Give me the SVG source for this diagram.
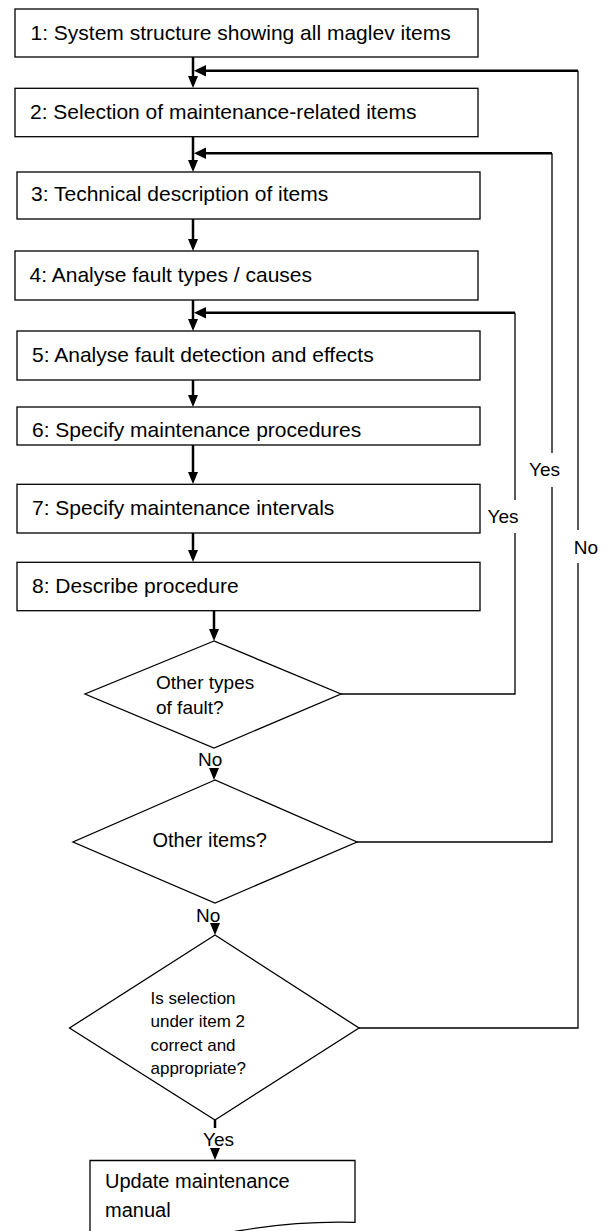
<svg xmlns="http://www.w3.org/2000/svg" width="607" height="1231" viewBox="0 0 607 1231">
<style>
text{font-family:"Liberation Sans",Arial,sans-serif;fill:#000}
.bt{font-size:21px}
.lb{font-size:19px}
.box{fill:#fff;stroke:#000;stroke-width:1.3}
.thick{stroke:#000;stroke-width:2.5;fill:none}
.thin{stroke:#000;stroke-width:1.3;fill:none}
.ah{fill:#000;stroke:none}
</style>
<rect width="607" height="1231" fill="#fff"/>
<g id="connectors">
<line class="thick" x1="193" y1="57" x2="193" y2="77"/>
<polygon class="ah" points="188,76 198,76 193,88"/>
<line class="thick" x1="193" y1="137" x2="193" y2="161"/>
<polygon class="ah" points="188,160 198,160 193,172"/>
<line class="thick" x1="193" y1="219" x2="193" y2="240"/>
<polygon class="ah" points="188,239 198,239 193,251"/>
<line class="thick" x1="193" y1="300" x2="193" y2="320"/>
<polygon class="ah" points="188,319 198,319 193,331"/>
<line class="thick" x1="193" y1="380" x2="193" y2="396"/>
<polygon class="ah" points="188,395 198,395 193,407"/>
<line class="thick" x1="193" y1="445" x2="193" y2="473"/>
<polygon class="ah" points="188,472 198,472 193,484"/>
<line class="thick" x1="193" y1="533" x2="193" y2="551"/>
<polygon class="ah" points="188,550 198,550 193,562"/>
<line class="thick" x1="214" y1="611" x2="214" y2="630"/>
<polygon class="ah" points="209,629 219,629 214,641"/>
<polygon class="ah" points="209,768 219,768 214,780"/>
<polygon class="ah" points="210,923 220,923 215,935"/>
<line class="thick" x1="215" y1="1120" x2="215" y2="1128"/>
<polygon class="ah" points="210,1148 220,1148 215,1160"/>
<polyline class="thin" points="341,694 515,694 515,533"/>
<polyline class="thin" points="515,500 515,312.7"/>
<line class="thick" x1="515" y1="312.7" x2="200" y2="312.7"/>
<polygon class="ah" points="194,312.7 206,307 206,318.4"/>
<polyline class="thin" points="357,842 552,842 552,487"/>
<polyline class="thin" points="552,453 552,153.3"/>
<line class="thick" x1="552" y1="153.3" x2="200" y2="153.3"/>
<polygon class="ah" points="194,153.3 206,147.6 206,159"/>
<polyline class="thin" points="359,1028 578,1028 578,563"/>
<polyline class="thin" points="578,530 578,70.7"/>
<line class="thick" x1="578" y1="70.7" x2="200" y2="70.7"/>
<polygon class="ah" points="194,70.7 206,65 206,76.4"/>
<text class="lb" x="503" y="523" text-anchor="middle">Yes</text>
<text class="lb" x="544.5" y="476" text-anchor="middle">Yes</text>
<text class="lb" x="586" y="554" text-anchor="middle">No</text>
<text class="lb" x="198" y="766">No</text>
<text class="lb" x="196" y="922">No</text>
<text class="lb" x="203" y="1146">Yes</text>
</g>
<g id="n1"><rect class="box" x="15" y="9" width="463" height="48"/><text class="bt" x="30.5" y="40">1: System structure showing all maglev items</text></g>
<g id="n2"><rect class="box" x="15" y="88.3" width="463" height="48.4"/><text class="bt" x="30" y="118.5">2: Selection of maintenance-related items</text></g>
<g id="n3"><rect class="box" x="17" y="172" width="463" height="47"/><text class="bt" x="31" y="201">3: Technical description of items</text></g>
<g id="n4"><rect class="box" x="15" y="251" width="463" height="49"/><text class="bt" x="29.5" y="281.5">4: Analyse fault types / causes</text></g>
<g id="n5"><rect class="box" x="17" y="331" width="463" height="49"/><text class="bt" x="32" y="361.5">5: Analyse fault detection and effects</text></g>
<g id="n6"><rect class="box" x="17" y="407" width="463" height="38"/><text class="bt" x="32" y="436.5">6: Specify maintenance procedures</text></g>
<g id="n7"><rect class="box" x="17" y="484.3" width="463" height="48.7"/><text class="bt" x="32" y="515">7: Specify maintenance intervals</text></g>
<g id="n8"><rect class="box" x="17" y="562.3" width="463" height="48.4"/><text class="bt" x="32" y="593.3">8: Describe procedure</text></g>
<g id="d1"><polygon class="box" points="214,641 85,694 214,748 341,694"/><text style="font-size:19px" x="156" y="689">Other types</text><text style="font-size:19px" x="156" y="714">of fault?</text></g>
<g id="d2"><polygon class="box" points="215,780 73,842 215,903 357,842"/><text style="font-size:20px" x="152.5" y="847">Other items?</text></g>
<g id="d3"><polygon class="box" points="215,935 69.5,1028 215,1120 359,1028"/><text style="font-size:17px" x="150.5" y="1003.5">Is selection</text><text style="font-size:17px" x="150.5" y="1027">under item 2</text><text style="font-size:17px" x="150.5" y="1050.5">correct and</text><text style="font-size:17px" x="150.5" y="1074">appropriate?</text></g>
<g id="doc"><path class="box" d="M90,1250 V1160.5 H355 V1222.3 C310,1221 272,1225 238,1231 C200,1238 140,1246 90,1250 Z"/><text style="font-size:20px" x="105" y="1188">Update maintenance</text><text style="font-size:20px" x="105" y="1216.5">manual</text></g>
</svg>
